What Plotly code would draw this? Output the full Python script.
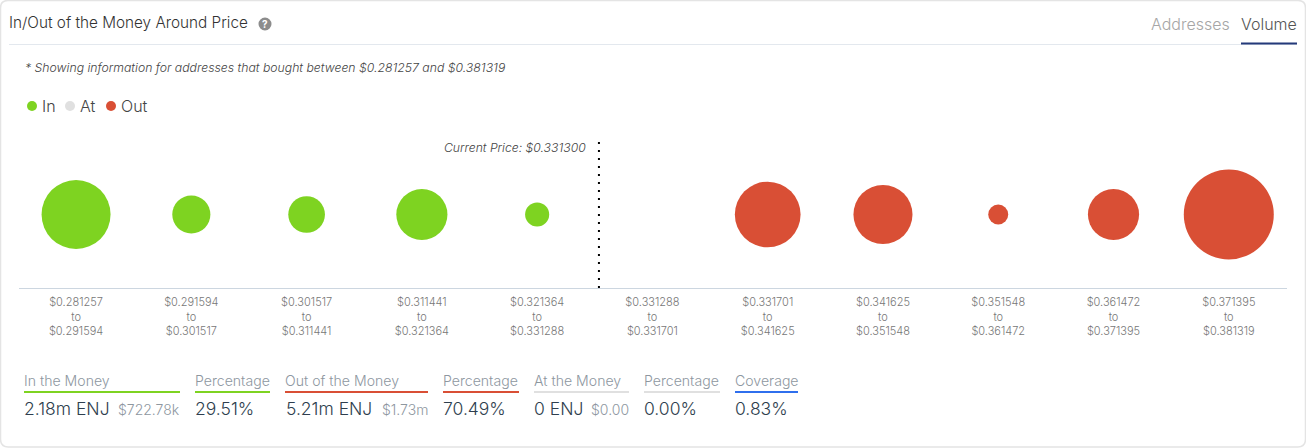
import plotly.graph_objects as go

W, H = 1306, 448
PL, PR, PT, PB = 19, 1287, 130, 288

range_from = ["$0.281257", "$0.291594", "$0.301517", "$0.311441", "$0.321364", "$0.331288",
              "$0.331701", "$0.341625", "$0.351548", "$0.361472", "$0.371395"]
range_to = ["$0.291594", "$0.301517", "$0.311441", "$0.321364", "$0.331288", "$0.331701",
            "$0.341625", "$0.351548", "$0.361472", "$0.371395", "$0.381319"]
tick_labels = [f"{a}<br>to<br>{b}" for a, b in zip(range_from, range_to)]
positions = list(range(len(tick_labels)))

# Bubble volumes (million ENJ, relative)
in_values = [1.31, 0.40, 0.37, 0.72, 0.16, 0, 0, 0, 0, 0, 0]
at_values = [0, 0, 0, 0, 0, 0, 0, 0, 0, 0, 0]
out_values = [0, 0, 0, 0, 0, 0, 1.19, 0.96, 0.11, 0.72, 2.23]

GREEN, RED, LIGHT, BLUE = "#7ED321", "#D94F35", "#E0E0E0", "#2F6FED"
DARK, MUTED = "#2E3E4E", "#8E979F"
FONT = "Inter"
MAX_D = 90
sizeref = 2 * max(in_values + out_values) / MAX_D ** 2

def X(p):
    return (p - PL) / (PR - PL)

def Y(p):
    return (PB - p) / (PB - PT)

fig = go.Figure()
for name, vals, col in [("In", in_values, GREEN), ("At", at_values, LIGHT), ("Out", out_values, RED)]:
    fig.add_trace(go.Scatter(
        x=positions, y=[0] * len(vals), mode="markers", name=name,
        marker=dict(size=vals, sizemode="area", sizeref=sizeref, sizemin=0, color=col,
                    opacity=1, line=dict(width=0)),
        hovertemplate="%{text}<extra>" + name + "</extra>",
        text=[f"{v}m ENJ" for v in vals],
    ))

shapes, ann = [], []

def line(x0, y0, x1, y1, col, w=1):
    shapes.append(dict(type="line", xref="paper", yref="paper", x0=X(x0), x1=X(x1), y0=Y(y0), y1=Y(y1),
                       line=dict(color=col, width=w), layer="below"))

def dot(cx, cy, r, col):
    shapes.append(dict(type="circle", xref="paper", yref="paper", x0=X(cx - r), x1=X(cx + r),
                       y0=Y(cy - r), y1=Y(cy + r), fillcolor=col, line=dict(width=0)))

def text(x, y, s, size, col, anchor="left", **kw):
    ann.append(dict(text=s, xref="paper", yref="paper", x=X(x), y=Y(y), xanchor=anchor, yanchor="middle",
                    showarrow=False, borderpad=0, borderwidth=0,
                    font=dict(family=FONT, size=size, color=col, **kw)))

# Card outline
shapes.append(dict(type="path", xref="paper", yref="paper", layer="below",
    path=f"M {X(0.5)} {Y(8)} Q {X(0.5)} {Y(0.5)} {X(8)} {Y(0.5)} L {X(1298)} {Y(0.5)} "
         f"Q {X(1305.5)} {Y(0.5)} {X(1305.5)} {Y(8)} L {X(1305.5)} {Y(439)} "
         f"Q {X(1305.5)} {Y(447)} {X(1298)} {Y(447)} L {X(8)} {Y(447)} "
         f"Q {X(0.5)} {Y(447)} {X(0.5)} {Y(439)} Z",
    line=dict(color="#E4E4E4", width=1.5), fillcolor="#FFFFFF"))

# Header
text(8.5, 23, "In/Out of the Money Around Price", 15.3, "#333333", weight=300)
dot(265, 24, 6.5, "#8C8C8C")
text(265, 24, "<b>?</b>", 10, "#FFFFFF", anchor="center")
line(9, 44.5, 1297, 44.5, "#E3E8EE", 1)
text(1150.5, 24, "Addresses", 16, "#A6A6A6", weight=300)
text(1241, 24, "Volume", 16, "#555555", weight=300)
line(1241, 43.5, 1297, 43.5, "#253A7A", 2)
text(25, 67, "* Showing information for addresses that bought between $0.281257 and $0.381319", 12.25, "#444444", style="italic", weight=300)

# Legend
for cx, lx, s, col in [(32, 42, "In", GREEN), (70, 80, "At", LIGHT), (111, 121, "Out", RED)]:
    dot(cx, 106, 5, col)
    text(lx, 105.5, s, 16, "#444444", weight=300)

# Current price
shapes.append(dict(type="line", xref="x", yref="paper", x0=4.536, x1=4.536, y0=0, y1=Y(142),
                   line=dict(color="#000000", width=2, dash="2px,6px")))
text(586, 147, "Current Price: $0.331300", 12.2, "#444444", anchor="right", style="italic", weight=300)

# Footer stats
stats = [
    (24, 180, "In the Money", GREEN), (195, 270, "Percentage", GREEN),
    (285, 428, "Out of the Money", RED), (443, 519, "Percentage", RED),
    (534, 629, "At the Money", LIGHT), (644, 720, "Percentage", LIGHT),
    (735, 798, "Coverage", BLUE),
]
for x0, x1, s, col in stats:
    text(x0, 380, s, 14.1, MUTED, weight=300)
    line(x0, 392, x1, 392, col, 2)

values = [(24, "2.18m ENJ"), (195, "29.51%"), (286, "5.21m ENJ"), (443, "70.49%"),
          (534, "0 ENJ"), (644, "0.00%"), (735, "0.83%")]
for x, s in values:
    text(x, 408, s, 17.5, DARK, weight=300)
for x, s in [(180, "$722.78k"), (428, "$1.73m"), (629, "$0.00")]:
    text(x, 409.5, s, 14, MUTED, anchor="right", weight=300)

fig.update_layout(
    width=W, height=H, autosize=False,
    margin=dict(l=PL, r=W - PR, t=PT, b=H - PB, pad=0),
    paper_bgcolor="#FFFFFF", plot_bgcolor="#FFFFFF",
    showlegend=False, shapes=shapes, annotations=ann,
    xaxis=dict(range=[-0.495, 10.505], tickmode="array", tickvals=positions, ticktext=tick_labels,
               showgrid=False, zeroline=False, showline=True, linecolor="#CCD6E0", linewidth=1,
               ticks="outside", ticklen=4, tickcolor="rgba(0,0,0,0)", tickangle=0,
               tickfont=dict(family=FONT, size=11, color="#777777", weight=300)),
    yaxis=dict(range=[-73.5, 84.5], visible=False, fixedrange=True),
)
fig.write_html("out.html", config={"displayModeBar": False},
               post_script="document.body.style.margin='0';document.documentElement.style.overflow='hidden';")
